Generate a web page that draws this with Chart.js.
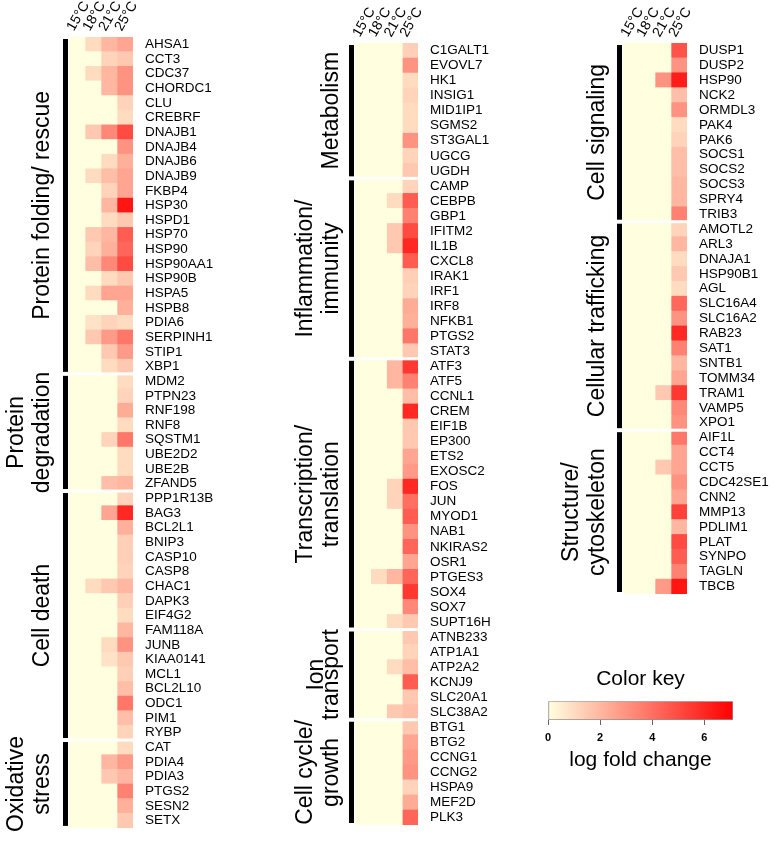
<!DOCTYPE html>
<html lang="en">
<head>
  <meta charset="UTF-8">
  <title>Heat stress gene expression</title>
  <script src="https://cdn.jsdelivr.net/npm/chart.js@4.4.1/dist/chart.umd.min.js"></script>
  <style>
    body {
      margin: 0;
      background: #fff;
      font-family: 'Liberation Sans', Arial, sans-serif;
    }
    #wrap {
      position: relative;
      width: 774px;
      height: 848px;
    }
    canvas {
      position: absolute;
      top: 0;
    }
  </style>
</head>
<body>
  <div id="wrap">
    <canvas id="col1" width="262" height="848" style="left:0"></canvas>
    <canvas id="col2" width="258" height="848" style="left:262px"></canvas>
    <canvas id="col3" width="254" height="848" style="left:520px"></canvas>
    <canvas id="key" width="254" height="120" style="left:520px; top:660px"></canvas>
  </div>

  <script>
    const temps = ['15°C', '18°C', '21°C', '25°C'];
    const keyTicks = [0, 2, 4, 6];
    const keyMax = 7.1;

    // column 1
    const col1Groups = ['Protein folding/ rescue', 'Protein\ndegradation', 'Cell death', 'Oxidative\nstress'];
    const col1Sizes = [23, 8, 17, 6];
    const col1Genes = [
      'AHSA1', 'CCT3', 'CDC37', 'CHORDC1', 'CLU', 'CREBRF', 'DNAJB1', 'DNAJB4', 'DNAJB6', 'DNAJB9',
      'FKBP4', 'HSP30', 'HSPD1', 'HSP70', 'HSP90', 'HSP90AA1', 'HSP90B', 'HSPA5', 'HSPB8', 'PDIA6',
      'SERPINH1', 'STIP1', 'XBP1',
      'MDM2', 'PTPN23', 'RNF198', 'RNF8', 'SQSTM1', 'UBE2D2', 'UBE2B', 'ZFAND5',
      'PPP1R13B', 'BAG3', 'BCL2L1', 'BNIP3', 'CASP10', 'CASP8', 'CHAC1', 'DAPK3', 'EIF4G2', 'FAM118A',
      'JUNB', 'KIAA0141', 'MCL1', 'BCL2L10', 'ODC1', 'PIM1', 'RYBP',
      'CAT', 'PDIA4', 'PDIA3', 'PTGS2', 'SESN2', 'SETX'
    ];
    const col1Values = [
      [0, 1, 2, 2.5], [0, 0, 1.2, 1.5], [0, 1, 2, 3], [0, 0, 2, 3], [0, 0, 0, 1.2],
      [0, 0, 0, 1], [0, 1.5, 3.3, 5], [0, 0, 0, 3], [0, 0, 1, 2.2], [0, 1, 1.8, 2.5],
      [0, 0, 1.2, 2.5], [0, 0, 2, 6.5], [0, 0, 1, 1.5], [0, 1.5, 2, 4.5], [0, 1.2, 2.2, 4.3],
      [0, 1.8, 3.3, 5], [0, 0, 1, 1.5], [0, 1, 2.5, 2.5], [0, 0, 0, 2.2], [0, 0.8, 1.2, 1],
      [0, 1.5, 2.8, 3.8], [0, 0, 1.5, 2.8], [0, 0, 1, 1.5],
      [0, 0, 0, 1], [0, 0, 0, 1.2], [0, 0, 0, 2.3], [0, 0, 0, 1], [0, 0, 1.2, 3.8],
      [0, 0, 0, 1], [0, 0, 0, 1], [0, 0, 1.8, 2],
      [0, 0, 0, 1.2], [0, 0, 2.5, 6], [0, 0, 0, 2.2], [0, 0, 0, 1.3], [0, 0, 0, 1.3],
      [0, 0, 0, 1.2], [0, 1, 1.5, 2], [0, 0, 0, 1.3], [0, 0, 0, 1], [0, 0, 0, 2],
      [0, 0, 1, 3], [0, 0, 0.8, 1.5], [0, 0, 0, 1.3], [0, 0, 0, 1.8], [0, 0, 0, 3.8],
      [0, 0, 0, 1.8], [0, 0, 0, 1.2],
      [0, 0, 0, 1], [0, 0, 2, 2.8], [0, 0, 1.5, 2], [0, 0, 0, 3.5], [0, 0, 0, 2.2], [0, 0, 0, 1.5]
    ];

    // column 2
    const col2Groups = ['Metabolism', 'Inflammation/\nimmunity', 'Transcription/\ntranslation', 'Ion\ntransport', 'Cell cycle/\ngrowth'];
    const col2Sizes = [9, 12, 18, 6, 7];
    const col2Genes = [
      'C1GALT1', 'EVOVL7', 'HK1', 'INSIG1', 'MID1IP1', 'SGMS2', 'ST3GAL1', 'UGCG', 'UGDH',
      'CAMP', 'CEBPB', 'GBP1', 'IFITM2', 'IL1B', 'CXCL8', 'IRAK1', 'IRF1', 'IRF8', 'NFKB1', 'PTGS2', 'STAT3',
      'ATF3', 'ATF5', 'CCNL1', 'CREM', 'EIF1B', 'EP300', 'ETS2', 'EXOSC2', 'FOS', 'JUN',
      'MYOD1', 'NAB1', 'NKIRAS2', 'OSR1', 'PTGES3', 'SOX4', 'SOX7', 'SUPT16H',
      'ATNB233', 'ATP1A1', 'ATP2A2', 'KCNJ9', 'SLC20A1', 'SLC38A2',
      'BTG1', 'BTG2', 'CCNG1', 'CCNG2', 'HSPA9', 'MEF2D', 'PLK3'
    ];
    const col2Values = [
      [0, 0, 0, 1.3], [0, 0, 0, 3], [0, 0, 0, 1], [0, 0, 0, 1.2], [0, 0, 0, 1],
      [0, 0, 0, 1], [0, 0, 0, 3], [0, 0, 0, 1.2], [0, 0, 0, 1.5],
      [0, 0, 0, 1.2], [0, 0, 1, 4.5], [0, 0, 0, 3.5], [0, 0, 1.5, 5], [0, 0, 1.5, 6],
      [0, 0, 0, 4.5], [0, 0, 0, 1.3], [0, 0, 0, 1.2], [0, 0, 0, 2.3], [0, 0, 0, 2.2],
      [0, 0, 0, 3.8], [0, 0, 0, 1.5],
      [0, 0, 2, 5.5], [0, 0, 2, 3.5], [0, 0, 0, 1.8], [0, 0, 0, 6], [0, 0, 0, 1.5],
      [0, 0, 0, 1.5], [0, 0, 0, 2.5], [0, 0, 0, 2.8], [0, 0, 1.2, 6], [0, 0, 1.2, 4],
      [0, 0, 0, 4.5], [0, 0, 0, 3], [0, 0, 0, 4.3], [0, 0, 0, 2.5], [0, 1, 2, 4.3],
      [0, 0, 0, 5.5], [0, 0, 0, 3.3], [0, 0, 1, 1.5],
      [0, 0, 0, 1.5], [0, 0, 0, 1.2], [0, 0, 1, 1.8], [0, 0, 0, 4.5], [0, 0, 0, 1.5], [0, 0, 1.5, 1.8],
      [0, 0, 0, 1.5], [0, 0, 0, 2.5], [0, 0, 0, 2.8], [0, 0, 0, 3], [0, 0, 0, 1.2],
      [0, 0, 0, 2.3], [0, 0, 0, 4.3]
    ];

    // column 3
    const col3Groups = ['Cell signaling', 'Cellular trafficking', 'Structure/\ncytoskeleton'];
    const col3Sizes = [12, 14, 11];
    const col3Genes = [
      'DUSP1', 'DUSP2', 'HSP90', 'NCK2', 'ORMDL3', 'PAK4', 'PAK6', 'SOCS1', 'SOCS2', 'SOCS3', 'SPRY4', 'TRIB3',
      'AMOTL2', 'ARL3', 'DNAJA1', 'HSP90B1', 'AGL', 'SLC16A4', 'SLC16A2', 'RAB23', 'SAT1', 'SNTB1',
      'TOMM34', 'TRAM1', 'VAMP5', 'XPO1',
      'AIF1L', 'CCT4', 'CCT5', 'CDC42SE1', 'CNN2', 'MMP13', 'PDLIM1', 'PLAT', 'SYNPO', 'TAGLN', 'TBCB'
    ];
    const col3Values = [
      [0, 0, 0, 4.8], [0, 0, 0, 3], [0, 0, 3, 6.3], [0, 0, 0, 1.8], [0, 0, 0, 3],
      [0, 0, 0, 1], [0, 0, 0, 1.2], [0, 0, 0, 1.8], [0, 0, 0, 1.8], [0, 0, 0, 2],
      [0, 0, 0, 2], [0, 0, 0, 3.5],
      [0, 0, 0, 1.2], [0, 0, 0, 2], [0, 0, 0, 1], [0, 0, 0, 1.5], [0, 0, 0, 1],
      [0, 0, 0, 4.2], [0, 0, 0, 3], [0, 0, 0, 6], [0, 0, 0, 3.5], [0, 0, 0, 2],
      [0, 0, 0, 2.5], [0, 0, 1.5, 5.5], [0, 0, 0, 3.3], [0, 0, 0, 3],
      [0, 0, 0, 3.8], [0, 0, 0, 2.5], [0, 0, 1.5, 2.5], [0, 0, 0, 3], [0, 0, 0, 2.5],
      [0, 0, 0, 5.3], [0, 0, 0, 2], [0, 0, 0, 5], [0, 0, 0, 4.5], [0, 0, 0, 3.5], [0, 0, 2.8, 6.5]
    ];

    const FONT = "'Liberation Sans', Arial, sans-serif";

    // lightyellow -> red
    function heat(v) {
      const t = Math.max(0, Math.min(1, v / keyMax));
      return `rgb(255,${Math.round(255 * (1 - t))},${Math.round(224 * (1 - t))})`;
    }

    // black bars, white gaps and rotated group names
    function groupPlugin(names, sizes, labelOffset, leading) {
      return {
        id: 'groups',
        afterDatasetsDraw(chart) {
          const ctx = chart.ctx;
          const area = chart.chartArea;
          const rowH = (area.bottom - area.top) / sizes.reduce((a, b) => a + b, 0);
          let start = 0;
          ctx.save();
          sizes.forEach((n, g) => {
            const y0 = area.top + start * rowH;
            const y1 = area.top + (start + n) * rowH;
            if (g > 0) {
              ctx.fillStyle = '#fff';
              ctx.fillRect(area.left, y0 - 1.5, area.right - area.left, 3);
            }
            ctx.fillStyle = '#000';
            ctx.fillRect(area.left - 6, y0 + 2, 5, y1 - y0 - 4);

            const lines = names[g].split('\n');
            const lead = leading[g] || 26;
            ctx.save();
            ctx.translate(area.left - 6 - labelOffset, (y0 + y1) / 2);
            ctx.rotate(-Math.PI / 2);
            ctx.font = `23px ${FONT}`;
            ctx.textAlign = 'center';
            ctx.textBaseline = 'alphabetic';
            lines.forEach((line, j) => {
              ctx.fillText(line, 0, -(lines.length - 1 - j) * lead);
            });
            ctx.restore();
            start += n;
          });
          ctx.restore();
        }
      };
    }

    function makeHeatmap(id, genes, values, names, sizes, box) {
      new Chart(document.getElementById(id), {
        type: 'bar',
        data: {
          labels: genes,
          datasets: temps.map((t, j) => ({
            label: t,
            data: genes.map(() => 1),
            backgroundColor: (c) => heat(values[c.dataIndex][j]),
            borderWidth: 0,
            barPercentage: 1,
            categoryPercentage: 1
          }))
        },
        options: {
          indexAxis: 'y',
          responsive: false,
          animation: false,
          layout: { padding: { left: box.left, bottom: box.bottom, top: 0, right: 0 } },
          scales: {
            x: {
              type: 'linear',
              position: 'top',
              stacked: true,
              min: 0,
              max: temps.length,
              grid: { display: false, drawTicks: false },
              border: { display: false },
              afterBuildTicks: (s) => { s.ticks = temps.map((t, i) => ({ value: i + 0.5 })); },
              afterFit: (s) => { s.height = box.top; },
              ticks: {
                autoSkip: false,
                minRotation: 60,
                maxRotation: 60,
                padding: 3,
                labelOffset: 8,
                color: '#000',
                font: { family: FONT, size: 14 },
                callback: (v, i) => temps[i]
              }
            },
            y: {
              position: 'right',
              stacked: true,
              grid: { display: false, drawTicks: false },
              border: { display: false },
              afterFit: (s) => { s.width = box.right; },
              ticks: {
                autoSkip: false,
                padding: 12,
                color: '#000',
                font: { family: FONT, size: 13.5 }
              }
            }
          },
          plugins: {
            legend: { display: false },
            tooltip: { enabled: false }
          }
        },
        plugins: [groupPlugin(names, sizes, box.labelOffset, box.leading)]
      });
    }

    makeHeatmap('col1', col1Genes, col1Values, col1Groups, col1Sizes,
      { left: 69, top: 37, bottom: 6, right: 129, labelOffset: 14, leading: [] });
    makeHeatmap('col2', col2Genes, col2Values, col2Groups, col2Sizes,
      { left: 93, top: 43, bottom: 23, right: 102, labelOffset: 11, leading: [26, 26, 26, 15, 26] });
    makeHeatmap('col3', col3Genes, col3Values, col3Groups, col3Sizes,
      { left: 103, top: 43, bottom: 254, right: 87, labelOffset: 13, leading: [] });

    // colour key
    new Chart(document.getElementById('key'), {
      type: 'bar',
      data: {
        labels: [''],
        datasets: [{
          data: [[0, keyMax]],
          backgroundColor: (c) => {
            const area = c.chart.chartArea;
            if (!area) return heat(0);
            const g = c.chart.ctx.createLinearGradient(area.left, 0, area.right, 0);
            for (let i = 0; i <= 10; i++) g.addColorStop(i / 10, heat(keyMax * i / 10));
            return g;
          },
          borderColor: '#9a8c8c',
          borderWidth: 1,
          borderSkipped: false,
          barPercentage: 1,
          categoryPercentage: 1
        }]
      },
      options: {
        indexAxis: 'y',
        responsive: false,
        animation: false,
        layout: { padding: { left: 28, right: 41, top: 0, bottom: 0 } },
        scales: {
          x: {
            type: 'linear',
            min: 0,
            max: keyMax,
            afterBuildTicks: (s) => { s.ticks = keyTicks.map(v => ({ value: v })); },
            afterFit: (s) => { s.height = 60; },
            grid: { display: true, drawOnChartArea: false, drawTicks: true, tickLength: 5, color: '#666' },
            border: { display: false },
            ticks: {
              padding: 6,
              color: '#000',
              font: { family: FONT, size: 11, weight: 'bold' }
            },
            title: {
              display: true,
              text: 'log fold change',
              color: '#000',
              font: { family: FONT, size: 21 },
              padding: { top: 0, bottom: 7 }
            }
          },
          y: { display: false }
        },
        plugins: {
          legend: { display: false },
          tooltip: { enabled: false },
          title: {
            display: true,
            text: 'Color key',
            color: '#000',
            font: { family: FONT, size: 21, weight: 'normal' },
            padding: { top: 7, bottom: 9 }
          }
        }
      }
    });
  </script>
</body>
</html>
